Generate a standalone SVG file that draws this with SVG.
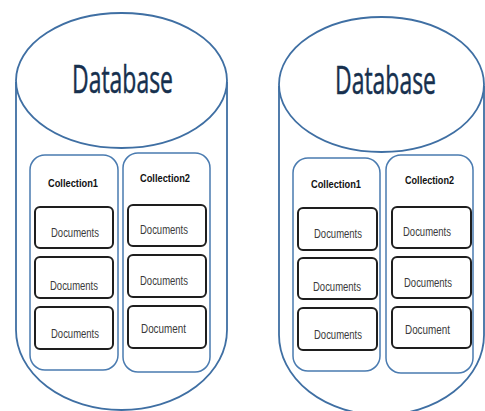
<svg xmlns="http://www.w3.org/2000/svg" width="485" height="411" viewBox="0 0 485 411">
<style>
.cyl{fill:#fff;stroke:#3f6fa3;stroke-width:1.8}
.col{fill:#fff;stroke:#4a7bb0;stroke-width:1.5}
.doc{fill:#fff;stroke:#1e1e1e;stroke-width:2}
.db{font-family:"Open Sans","Liberation Sans",sans-serif;font-size:38px;fill:#16304e;stroke:#16304e;stroke-width:0.5}
.ct{font-family:"Liberation Sans",sans-serif;font-size:11px;font-weight:bold;fill:#111}
.dt{font-family:"Liberation Sans",sans-serif;font-size:12px;fill:#3a3a3a}
</style>
<rect width="485" height="411" fill="#fff"/>
<g id="db1">
<path class="cyl" d="M16,82 V330 A105.5,80 0 0 0 227,330 V82"/>
<ellipse class="cyl" cx="121.5" cy="80.5" rx="105.5" ry="67.5"/>
<text class="db" x="72" y="93" textLength="101" lengthAdjust="spacingAndGlyphs">Database</text>
</g>
<g id="db1-col1">
<rect class="col" x="30" y="155" width="88" height="215" rx="15"/>
<text class="ct" x="48" y="187" textLength="50" lengthAdjust="spacingAndGlyphs">Collection1</text>
<rect class="doc" x="35" y="207" width="78" height="41" rx="5"/>
<text class="dt" x="51" y="237" textLength="48" lengthAdjust="spacingAndGlyphs">Documents</text>
<rect class="doc" x="35" y="257" width="78" height="41" rx="5"/>
<text class="dt" x="50" y="290" textLength="48" lengthAdjust="spacingAndGlyphs">Documents</text>
<rect class="doc" x="35" y="307" width="78" height="42" rx="5"/>
<text class="dt" x="51" y="338" textLength="48" lengthAdjust="spacingAndGlyphs">Documents</text>
</g>
<g id="db1-col2">
<rect class="col" x="123" y="153" width="87" height="219" rx="15"/>
<text class="ct" x="140" y="182" textLength="50" lengthAdjust="spacingAndGlyphs">Collection2</text>
<rect class="doc" x="128" y="205" width="78" height="41" rx="5"/>
<text class="dt" x="140" y="234" textLength="48" lengthAdjust="spacingAndGlyphs">Documents</text>
<rect class="doc" x="128" y="255" width="78" height="42" rx="5"/>
<text class="dt" x="140" y="285" textLength="48" lengthAdjust="spacingAndGlyphs">Documents</text>
<rect class="doc" x="128" y="306" width="78" height="42" rx="5"/>
<text class="dt" x="141" y="333" textLength="45" lengthAdjust="spacingAndGlyphs">Document</text>
</g>
<g id="db2">
<path class="cyl" d="M279,86 V335 A102.5,80 0 0 0 484,335 V86"/>
<ellipse class="cyl" cx="381.5" cy="84.5" rx="102.5" ry="67.5"/>
<text class="db" x="335" y="94" textLength="101" lengthAdjust="spacingAndGlyphs">Database</text>
</g>
<g id="db2-col1">
<rect class="col" x="293" y="158" width="87" height="213" rx="15"/>
<text class="ct" x="311" y="188" textLength="50" lengthAdjust="spacingAndGlyphs">Collection1</text>
<rect class="doc" x="298" y="208" width="79" height="42" rx="5"/>
<text class="dt" x="314" y="238" textLength="48" lengthAdjust="spacingAndGlyphs">Documents</text>
<rect class="doc" x="298" y="258" width="79" height="41" rx="5"/>
<text class="dt" x="313" y="291" textLength="48" lengthAdjust="spacingAndGlyphs">Documents</text>
<rect class="doc" x="298" y="308" width="79" height="42" rx="5"/>
<text class="dt" x="314" y="339" textLength="48" lengthAdjust="spacingAndGlyphs">Documents</text>
</g>
<g id="db2-col2">
<rect class="col" x="386" y="155" width="87" height="218" rx="15"/>
<text class="ct" x="405" y="184" textLength="49" lengthAdjust="spacingAndGlyphs">Collection2</text>
<rect class="doc" x="392" y="207" width="79" height="41" rx="5"/>
<text class="dt" x="403" y="236" textLength="48" lengthAdjust="spacingAndGlyphs">Documents</text>
<rect class="doc" x="392" y="257" width="79" height="41" rx="5"/>
<text class="dt" x="404" y="287" textLength="48" lengthAdjust="spacingAndGlyphs">Documents</text>
<rect class="doc" x="392" y="307" width="79" height="41" rx="5"/>
<text class="dt" x="405" y="334" textLength="45" lengthAdjust="spacingAndGlyphs">Document</text>
</g>
<g id="connectors"></g>
</svg>
